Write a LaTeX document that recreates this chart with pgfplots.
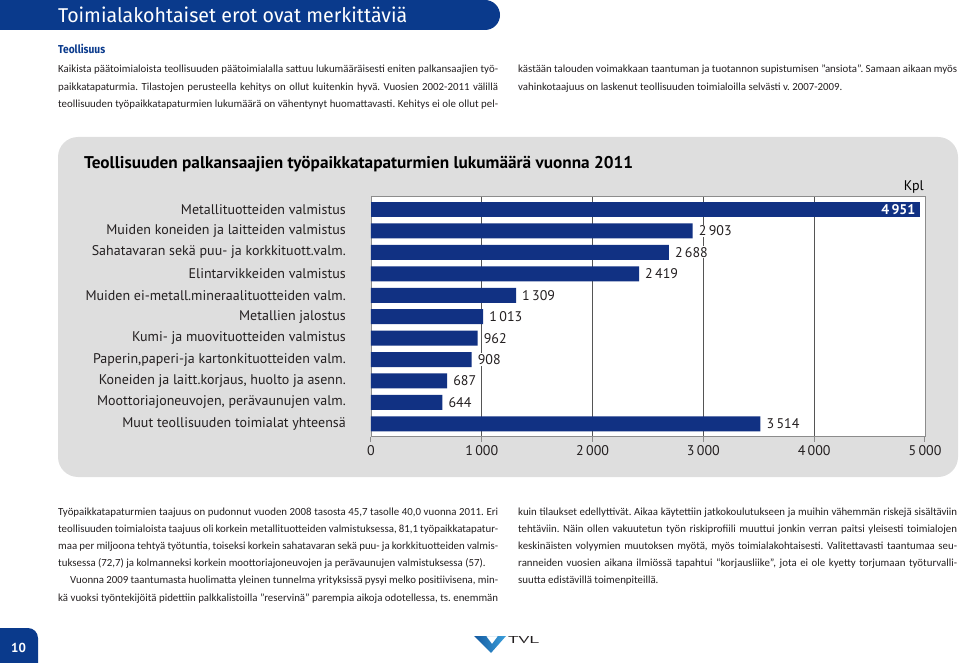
\documentclass[border=0pt]{standalone}
\usepackage{pgfplots}
\pgfplotsset{compat=1.18}
\usepackage{fontspec}
\setmainfont{Carlito}
\newfontfamily\chartfont{PT Sans}
\newfontfamily\headfont{Fira Sans}
\definecolor{hdblue}{RGB}{10,58,140}
\definecolor{barblue}{RGB}{17,49,131}
\definecolor{panelgray}{RGB}{222,222,222}
\definecolor{gridgray}{RGB}{85,85,85}
\definecolor{boxgray}{RGB}{140,140,140}
\definecolor{txt}{RGB}{35,31,32}
\definecolor{logodark}{RGB}{20,90,160}
\definecolor{logolight}{RGB}{60,160,220}
\frenchspacing
\newcommand\bodyfont{\fontsize{10.85}{12}\selectfont\color{txt}}
\newcommand\jl[4]{\node[anchor=base west,inner sep=0pt] at (#1,#2) {\bodyfont\makebox[#3pt][s]{#4}};}
\newcommand\nl[3]{\node[anchor=base west,inner sep=0pt] at (#1,#2) {\bodyfont #3};}
\newcommand\cf{\chartfont\fontsize{14}{14}\selectfont}
\begin{document}
\begin{tikzpicture}
\begin{scope}[x=1pt,y=-1pt]
\path[use as bounding box] (0,0) rectangle (959,663);
% header
\fill[hdblue, rounded corners=15pt] (-40,0) rectangle (500,30);
\node[anchor=base west, inner sep=0pt, text=white] at (58,22.5) {\resizebox{349pt}{\height}{\headfont\fontsize{20}{20}\selectfont Toimialakohtaiset erot ovat merkittäviä}};
\node[anchor=base west, inner sep=0pt, text=hdblue] at (58,53.5) {\resizebox{47pt}{\height}{\headfont\bfseries\fontsize{11.5}{12}\selectfont Teollisuus}};
% top text
\jl{58}{73}{440}{Kaikista päätoimialoista teollisuuden päätoimialalla sattuu lukumääräisesti eniten palkansaajien työ-}
\jl{58}{90.3}{440}{paikkatapaturmia. Tilastojen perusteella kehitys on ollut kuitenkin hyvä. Vuosien 2002-2011 välillä}
\jl{58}{107.5}{440}{teollisuuden työpaikkatapaturmien lukumäärä on vähentynyt huomattavasti. Kehitys ei ole ollut pel-}
\jl{518}{73}{439}{kästään talouden voimakkaan taantuman ja tuotannon supistumisen ”ansiota”. Samaan aikaan myös}
\nl{518}{90.3}{vahinkotaajuus on laskenut teollisuuden toimialoilla selvästi v. 2007-2009.}
% panel
\fill[panelgray, rounded corners=20pt] (58,137) rectangle (958,477);
\node[anchor=base west, inner sep=0pt] at (84,168.5) {\resizebox{549pt}{\height}{\chartfont\bfseries\fontsize{17}{17}\selectfont Teollisuuden palkansaajien työpaikkatapaturmien lukumäärä vuonna 2011}};
\node[anchor=base east, inner sep=0pt] at (924,191) {\cf Kpl};
% bottom text
\jl{58}{515}{440}{Työpaikkatapaturmien taajuus on pudonnut vuoden 2008 tasosta 45,7 tasolle 40,0 vuonna 2011. Eri}
\jl{58}{532.2}{440}{teollisuuden toimialoista taajuus oli korkein metallituotteiden valmistuksessa, 81,1 työpaikkatapatur-}
\jl{58}{549.4}{440}{maa per miljoona tehtyä työtuntia, toiseksi korkein sahatavaran sekä puu- ja korkkituotteiden valmis-}
\nl{58}{566.6}{tuksessa (72,7) ja kolmanneksi korkein moottoriajoneuvojen ja perävaunujen valmistuksessa (57).}
\jl{70}{583.8}{428}{Vuonna 2009 taantumasta huolimatta yleinen tunnelma yrityksissä pysyi melko positiivisena, min-}
\jl{58}{601}{440}{kä vuoksi työntekijöitä pidettiin palkkalistoilla ”reservinä” parempia aikoja odotellessa, ts. enemmän}
\jl{518}{515}{439}{kuin tilaukset edellyttivät. Aikaa käytettiin jatkokoulutukseen ja muihin vähemmän riskejä sisältäviin}
\jl{518}{532.2}{439}{tehtäviin. Näin ollen vakuutetun työn riskiprofiili muuttui jonkin verran paitsi yleisesti toimialojen}
\jl{518}{549.4}{439}{keskinäisten volyymien muutoksen myötä, myös toimialakohtaisesti. Valitettavasti taantumaa seu-}
\jl{518}{566.6}{439}{ranneiden vuosien aikana ilmiössä tapahtui “korjausliike”, jota ei ole kyetty torjumaan työturvalli-}
\nl{518}{583.8}{suutta edistävillä toimenpiteillä.}
% page number
\fill[hdblue, rounded corners=10pt] (-20,628) rectangle (38,700);
\node[text=white] at (18.5,648) {\chartfont\bfseries\fontsize{13}{13}\selectfont 10};
% logo
\shade[left color=logodark, right color=logolight, even odd rule]
  (474,636) -- (506,636) -- (491,653) -- cycle
  (486,636) -- (498,636) -- (492,644) -- cycle;
\node[anchor=base west, inner sep=0pt, text=txt] at (508,643) {\resizebox{31pt}{\height}{\chartfont\fontsize{10}{10}\selectfont TVL}};
\end{scope}
\begin{axis}[
  at={(371pt,-436.7pt)}, anchor=south west,
  width=554pt, height=240pt, scale only axis,
  xbar, bar width=15pt,
  xmin=0, xmax=5000, ymin=-0.6, ymax=10.6, y dir=reverse,
  enlargelimits=false,
  xtick={0,1000,2000,3000,4000,5000},
  xtick pos=left, tick align=outside, major tick length=5pt,
  xtick style={draw=boxgray, line width=1pt},
  ytick={0,1,2,3,4,5,6,7,8,9,10},
  ytick style={draw=none},
  yticklabels={Metallituotteiden valmistus,
    Muiden koneiden ja laitteiden valmistus,
    Sahatavaran sekä puu- ja korkkituott.valm.,
    Elintarvikkeiden valmistus,
    Muiden ei-metall.mineraalituotteiden valm.,
    Metallien jalostus,
    Kumi- ja muovituotteiden valmistus,
    {Paperin,paperi-ja kartonkituotteiden valm.},
    {Koneiden ja laitt.korjaus, huolto ja asenn.},
    {Moottoriajoneuvojen, perävaunujen valm.},
    Muut teollisuuden toimialat yhteensä},
  yticklabel style={font=\cf, text=txt, anchor=east, inner sep=0pt, xshift=-20pt},
  xticklabel style={font=\cf, text=txt},
  /pgf/number format/.cd, 1000 sep={\,}, assume math mode=true, /pgfplots/.cd,
  xmajorgrids, major grid style={draw=gridgray, line width=0.8pt},
  axis line style={draw=boxgray, line width=0.8pt},
  axis background/.style={fill=white},
  point meta=x,
]
\addplot[fill=barblue, draw=none, bar shift=0pt,
  nodes near coords, nodes near coords align=horizontal,
  every node near coord/.append style={font=\cf, text=txt, fill=white, inner sep=1pt, xshift=5pt}]
  coordinates {(2903,1) (2688,2) (2419,3) (1309,4) (1013,5) (962,6) (908,7) (687,8) (644,9) (3514,10)};
\addplot[fill=barblue, draw=none, bar shift=0pt,
  nodes near coords, nodes near coords align=horizontal,
  every node near coord/.append style={font=\chartfont\bfseries\fontsize{14}{14}\selectfont, text=white, anchor=east, inner sep=1pt, xshift=-3pt}]
  coordinates {(4951,0)};
\draw[boxgray, line width=1.6pt] (axis cs:0,10.6) -- (axis cs:5000,10.6);
\end{axis}
\end{tikzpicture}
\end{document}
